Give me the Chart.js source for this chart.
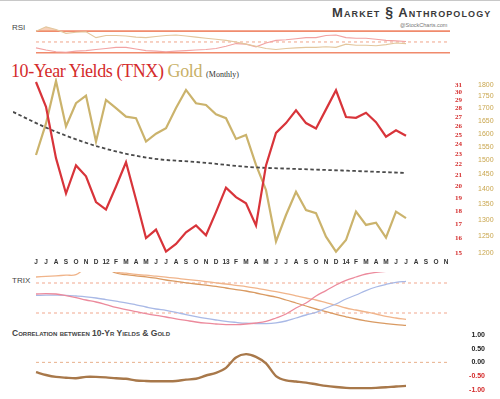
<!DOCTYPE html>
<html>
<head>
<meta charset="utf-8">
<script src="https://cdn.jsdelivr.net/npm/chart.js@4"></script>
<style>
body { margin:0; background:#fff; width:500px; height:399px; overflow:hidden; position:relative; font-family:'Liberation Sans', Arial, sans-serif; }
canvas { position:absolute; left:0; }
.lbl { position:absolute; white-space:nowrap; }
</style>
</head>
<body>
<div style="position:absolute;left:0;top:0;width:500px;height:1px;background:#c8c8c8"></div>
<div class="lbl" style="left:332px;top:4px;font:bold 13px 'Liberation Sans';font-variant:small-caps;color:#3a3a3a;letter-spacing:1.1px">Market <span style="font-size:14px">§</span> Anthropology</div>
<div class="lbl" style="left:400px;top:22px;font:5.5px 'Liberation Sans';color:#777">@StockCharts.com</div>
<div class="lbl" style="left:12px;top:23px;font:8px 'Liberation Sans';color:#444">RSI</div>
<div class="lbl" style="left:11px;top:61px;font:18px 'Liberation Serif';color:#d42b2b;letter-spacing:-0.4px">10-Year Yields (TNX) <span style="color:#c8b066">Gold</span> <span style="font-size:8px;color:#333;letter-spacing:0">(Monthly)</span></div>
<div class="lbl" style="left:12px;top:276px;font:8px 'Liberation Sans';color:#444">TRIX</div>
<div class="lbl" style="left:12px;top:328px;font:bold 8.5px 'Liberation Sans';font-variant:small-caps;color:#444">Correlation between 10-Yr Yields &amp; Gold</div>

<canvas id="rsi" width="500" height="42" style="top:18px"></canvas>
<canvas id="main" width="500" height="210" style="top:60px"></canvas>
<canvas id="trix" width="500" height="66" style="top:266px"></canvas>
<canvas id="corr" width="500" height="71" style="top:328px"></canvas>

<script>
// Jun 2011 .. Nov 2014
const monthLabels = ['J','J','A','S','O','N','D','12','F','M','A','M','J','J','A','S','O','N','D','13','F','M','A','M','J','J','A','S','O','N','D','14','F','M','A','M','J','J','A','S','O','N'];

const tnx = [31.4, 28.2, 22.6, 19.4, 21.9, 20.9, 18.7, 18.1, 20.0, 22.2, 18.9, 16.0, 16.6, 15.1, 15.6, 16.4, 16.9, 16.2, 17.9, 19.9,
  19.1, 18.6, 16.9, 21.9, 25.2, 26.3, 27.8, 26.3, 25.7, 27.9, 30.3, 27.0, 26.9, 27.5, 26.4, 24.8, 25.5, 24.9];
const gold = [1520, 1640, 1817, 1628, 1722, 1754, 1570, 1736, 1702, 1667, 1661, 1570, 1600, 1621, 1702, 1778, 1722, 1715, 1677, 1661,
  1580, 1595, 1484, 1397, 1234, 1315, 1391, 1331, 1321, 1248, 1204, 1238, 1326, 1284, 1291, 1245, 1326, 1305];

// dashed trend curve (month index, TNX units)
const trendX = [-2.3, 1.4, 6.4, 11.4, 16.4, 21.4, 26.4, 31.4, 37];
const trendY = [27.6, 25.6, 23.7, 22.6, 22.2, 21.75, 21.56, 21.4, 21.2];

const tnxTicks = [15,16,17,18,19,20,21,22,23,24,25,26,27,28,29,30,31];
const goldTicks = [1200,1250,1300,1350,1400,1450,1500,1550,1600,1650,1700,1750,1800];

const rsiGold = [70, 78, 73, 66, 68, 69, 58, 62, 62, 61, 59, 58, 60, 62, 63, 61, 59, 57, 55, 53,
  50, 46, 42, 38, 36, 38, 39, 40, 40, 41, 40, 46, 44, 44, 43, 45, 48, 47];
const rsiTnx = [39, 35, 32, 31, 33, 34, 36, 38, 40, 40, 37, 34, 33, 32, 33, 34, 35, 36, 38, 42,
  47, 46, 41, 48, 53, 54, 56, 58, 58, 62, 63, 58, 57, 57, 55, 53, 52, 51];
const rsiLevels = [70, 30];
const rsiMid = 50;

const trixTnx = [0.2, 0.22, 0.2, 0.12, 0.02, -0.1, -0.2, -0.33, -0.47, -0.58, -0.68, -0.78, -0.87, -0.95, -1.04, -1.12, -1.2, -1.26, -1.3, -1.33,
  -1.33, -1.3, -1.25, -1.17, -1.0, -0.8, -0.5, -0.25, 0.1, 0.37, 0.65, 0.88, 1.05, 1.2, 1.28, 1.33, 1.36, 1.38];
const trixTnxSignal = [0.13, 0.14, 0.14, 0.13, 0.1, 0.06, 0.0, -0.08, -0.16, -0.24, -0.34, -0.45, -0.55, -0.62, -0.72, -0.83, -0.93, -1.02, -1.1, -1.17,
  -1.22, -1.26, -1.28, -1.28, -1.24, -1.15, -1.0, -0.85, -0.72, -0.5, -0.3, -0.05, 0.15, 0.37, 0.55, 0.68, 0.78, 0.83];
const trixGold = [1.05, 1.08, 1.11, 1.14, 1.17, 1.5, 1.6, 1.5, 1.3, 1.24, 1.18, 1.14, 1.09, 1.04, 0.99, 0.93, 0.88, 0.82, 0.76, 0.7,
  0.63, 0.57, 0.49, 0.41, 0.32, 0.22, 0.11, 0.0, -0.1, -0.23, -0.36, -0.5, -0.6, -0.7, -0.8, -0.92, -1.0, -1.07];
const trixGoldSignal = [null, null, null, null, null, null, null, 1.5, 1.25, 1.17, 1.11, 1.06, 0.99, 0.9, 0.83, 0.76, 0.7, 0.64, 0.58, 0.5,
  0.42, 0.35, 0.25, 0.14, 0.04, -0.1, -0.25, -0.4, -0.55, -0.68, -0.82, -0.94, -1.05, -1.14, -1.22, -1.28, -1.33, -1.37];
const trixLevels = [0.75, -0.75];

const corr = [-0.36, -0.46, -0.53, -0.56, -0.58, -0.53, -0.53, -0.55, -0.58, -0.6, -0.66, -0.68, -0.69, -0.69, -0.68, -0.63, -0.6, -0.48, -0.38, -0.2,
  0.18, 0.3, 0.2, -0.04, -0.5, -0.66, -0.7, -0.74, -0.8, -0.86, -0.9, -0.93, -0.94, -0.94, -0.93, -0.91, -0.88, -0.86];
const corrTicks = [-1, -0.5, 0, 0.5, 1];

const X_MIN = -2.3, X_MAX = 41.4, REF_END = 41.4;
const RED = '#d42b2b';

function xy(arr) { return arr.map((v, i) => ({ x: i, y: v })); }
function level(v) { return [{ x: 0, y: v }, { x: REF_END, y: v }]; }

const hiddenX = { type: 'linear', min: X_MIN, max: X_MAX, display: false };
const base = {
  responsive: false,
  animation: false,
  plugins: { legend: { display: false }, tooltip: { enabled: false } },
  elements: { point: { radius: 0 }, line: { tension: 0 } }
};

// RSI panel
new Chart(document.getElementById('rsi'), {
  type: 'line',
  data: { datasets: [
    { data: xy(rsiGold), borderColor: '#e3c79e', borderWidth: 1.1,
      fill: { target: { value: 70 }, above: 'rgba(240,170,125,0.55)', below: 'rgba(0,0,0,0)' } },
    { data: xy(rsiTnx), borderColor: '#f2a3a3', borderWidth: 1.1 },
    ...rsiLevels.map(v => ({ data: level(v), borderColor: '#f08a6c', borderWidth: 1.6 })),
    { data: level(rsiMid), borderColor: '#f0a58a', borderWidth: 1, borderDash: [3, 3] }
  ] },
  options: { ...base,
    layout: { padding: { left: 13, right: 50, top: 4, bottom: 4 } },
    scales: { x: hiddenX, y: { min: 24, max: 87, display: false } } }
});

// main chart
new Chart(document.getElementById('main'), {
  type: 'line',
  data: { datasets: [
    { data: xy(tnx), yAxisID: 'yT', borderColor: '#d8343a', borderWidth: 2.2 },
    { data: trendX.map((x, i) => ({ x, y: trendY[i] })), yAxisID: 'yT', borderColor: '#4a4a4a', borderWidth: 1.8,
      borderDash: [3.5, 2.5], cubicInterpolationMode: 'monotone' },
    { data: xy(gold), yAxisID: 'yG', borderColor: '#cbb36c', borderWidth: 2.2 }
  ] },
  options: { ...base,
    layout: { padding: { left: 13, right: 0, top: 18, bottom: 0 } },
    scales: {
      x: { type: 'linear', min: X_MIN, max: X_MAX,
        afterBuildTicks: s => { s.ticks = monthLabels.map((_, i) => ({ value: i })); },
        afterFit: s => { s.height = 14; },
        grid: { display: false, drawTicks: false }, border: { display: false },
        ticks: { autoSkip: false, maxRotation: 0, padding: 2, color: '#333',
          font: { size: 6.5, weight: 'bold', family: 'Liberation Sans' },
          callback: v => monthLabels[v] } },
      yT: { type: 'logarithmic', position: 'right', weight: 0, min: 14.81, max: 31.95,
        afterBuildTicks: s => { s.ticks = tnxTicks.map(v => ({ value: v })); },
        afterFit: s => { s.width = 22; },
        grid: { display: false, drawTicks: false }, border: { display: false },
        ticks: { autoSkip: false, padding: 5, color: RED,
          font: { size: 7, weight: 'bold', family: 'Liberation Serif' }, callback: v => String(v) } },
      yG: { type: 'logarithmic', position: 'right', weight: 1, min: 1191.3, max: 1830,
        afterBuildTicks: s => { s.ticks = goldTicks.map(v => ({ value: v })); },
        afterFit: s => { s.width = 28; },
        grid: { display: false, drawTicks: false }, border: { display: false },
        ticks: { autoSkip: false, padding: 6, color: '#c9a64e',
          font: { size: 7, family: 'Liberation Sans' }, callback: v => String(v) } }
    } }
});

// TRIX panel
new Chart(document.getElementById('trix'), {
  type: 'line',
  data: { datasets: [
    { data: xy(trixTnx), borderColor: '#ec8a9c', borderWidth: 1.3, tension: 0.4 },
    { data: xy(trixTnxSignal), borderColor: '#a9b9e6', borderWidth: 1.3, tension: 0.4 },
    { data: xy(trixGold), borderColor: '#f0b48a', borderWidth: 1.3, tension: 0.4 },
    { data: xy(trixGoldSignal), borderColor: '#d99a62', borderWidth: 1.3, tension: 0.4 },
    ...trixLevels.map(v => ({ data: level(v), borderColor: '#f2a78e', borderWidth: 1, borderDash: [3, 3] }))
  ] },
  options: { ...base,
    layout: { padding: { left: 13, right: 50, top: 6, bottom: 4 } },
    scales: { x: hiddenX, y: { min: -1.5, max: 1.3, display: false } } }
});

// correlation panel
new Chart(document.getElementById('corr'), {
  type: 'line',
  data: { datasets: [
    { data: xy(corr), borderColor: '#a8784a', borderWidth: 2.4, tension: 0.3 },
    { data: level(0), borderColor: '#e8b08a', borderWidth: 1, borderDash: [3, 3] }
  ] },
  options: { ...base,
    layout: { padding: { left: 13, right: 15, top: 4, bottom: 6.5 } },
    scales: {
      x: hiddenX,
      y: { position: 'right', min: -1.1, max: 1.1,
        afterBuildTicks: s => { s.ticks = corrTicks.map(v => ({ value: v })); },
        afterFit: s => { s.width = 35; },
        grid: { display: false, drawTicks: false }, border: { display: false },
        ticks: { autoSkip: false, crossAlign: 'far', padding: 0,
          color: c => c.tick.value < 0 ? RED : '#222',
          font: { size: 7, weight: 'bold', family: 'Liberation Sans' },
          callback: v => v.toFixed(2) } }
    } }
});
</script>
</body>
</html>
